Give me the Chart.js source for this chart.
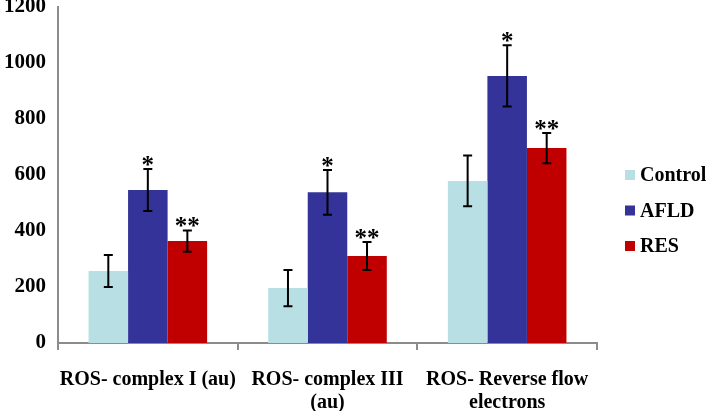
<!DOCTYPE html>
<html>
<head>
<meta charset="utf-8">
<script src="https://cdn.jsdelivr.net/npm/chart.js@4"></script>
<style>
  html, body { margin: 0; padding: 0; background: #fff; }
  #wrap { width: 707px; height: 411px; }
</style>
</head>
<body>
<div id="wrap"><canvas id="rosChart" width="707" height="411"></canvas></div>
<script>
// Categories and series
const categories = ['ROS- complex I (au)', ['ROS- complex III', '(au)'], ['ROS- Reverse flow', 'electrons']];
const seriesNames = ['Control', 'AFLD', 'RES'];
const controlValues = [257, 196, 579];
const afldValues = [546, 538, 954];
const resValues = [364, 311, 696];
const controlErrors = [57, 65, 91];
const afldErrors = [75, 80, 109];
const resErrors = [38, 50, 54];
const controlMarks = ['', '', ''];
const afldMarks = ['*', '*', '*'];
const resMarks = ['**', '**', '**'];
const yTickMin = 0;
const yTickMax = 1200;
const yTickStep = 200;

const seriesColors = ['#b8e0e4', '#333399', '#c00000'];
const axisColor = '#8c8c8c';
const serif = '"Liberation Serif", "Times New Roman", serif';

// Draws the error bars and significance stars from the data
const errorBarPlugin = {
  id: 'errorBars',
  afterDatasetsDraw(chart) {
    const ctx = chart.ctx;
    const yScale = chart.scales.y;
    chart.data.datasets.forEach((ds, di) => {
      const meta = chart.getDatasetMeta(di);
      meta.data.forEach((bar, i) => {
        const v = ds.data[i];
        const e = ds.errors[i];
        const top = yScale.getPixelForValue(v + e);
        const bottom = yScale.getPixelForValue(v - e);
        ctx.save();
        ctx.strokeStyle = '#000';
        ctx.lineWidth = 2;
        ctx.beginPath();
        ctx.moveTo(bar.x, top);
        ctx.lineTo(bar.x, bottom);
        ctx.moveTo(bar.x - 4.5, top);
        ctx.lineTo(bar.x + 4.5, top);
        ctx.moveTo(bar.x - 4.5, bottom);
        ctx.lineTo(bar.x + 4.5, bottom);
        ctx.stroke();
        if (ds.marks[i]) {
          ctx.fillStyle = '#000';
          ctx.font = 'bold 25px ' + serif;
          ctx.textAlign = 'center';
          ctx.textBaseline = 'alphabetic';
          ctx.fillText(ds.marks[i], bar.x, top + 4);
        }
        ctx.restore();
      });
    });
  }
};

// Legend on the right, centred on the canvas height like the original
const sideLegendPlugin = {
  id: 'sideLegend',
  afterDraw(chart) {
    const ctx = chart.ctx;
    const x = 625;
    const rowGap = 35.5;
    const firstY = 175;
    ctx.save();
    ctx.font = 'bold 20px ' + serif;
    ctx.textBaseline = 'middle';
    ctx.textAlign = 'left';
    chart.data.datasets.forEach((ds, i) => {
      const y = firstY + i * rowGap;
      ctx.fillStyle = ds.backgroundColor;
      ctx.fillRect(x, y - 5, 10, 10);
      ctx.fillStyle = '#000';
      ctx.fillText(ds.label, x + 15, y + 1);
    });
    ctx.restore();
  }
};

const config = {
  type: 'bar',
  data: {
    labels: categories,
    datasets: [
      { label: seriesNames[0], data: controlValues, errors: controlErrors, marks: controlMarks, backgroundColor: seriesColors[0] },
      { label: seriesNames[1], data: afldValues, errors: afldErrors, marks: afldMarks, backgroundColor: seriesColors[1] },
      { label: seriesNames[2], data: resValues, errors: resErrors, marks: resMarks, backgroundColor: seriesColors[2] }
    ]
  },
  options: {
    responsive: false,
    animation: false,
    layout: { padding: { top: 7, right: 110, left: 0, bottom: 0 } },
    datasets: {
      bar: { categoryPercentage: 0.66, barPercentage: 1.0, borderWidth: 0 }
    },
    plugins: {
      legend: { display: false },
      tooltip: { enabled: false }
    },
    scales: {
      x: {
        grid: { display: true, drawOnChartArea: false, drawTicks: true, tickLength: 7, color: axisColor, lineWidth: 2, offset: true },
        border: { display: true, color: axisColor, width: 2 },
        ticks: { color: '#000', font: { family: serif, size: 20, weight: 'bold', lineHeight: 1.15 }, padding: 18, maxRotation: 0, autoSkip: false },
        afterFit(scale) { scale.height = 68; }
      },
      y: {
        min: yTickMin,
        max: yTickMax,
        grid: { display: false, drawTicks: false },
        border: { display: true, color: axisColor, width: 2 },
        ticks: {
          stepSize: yTickStep,
          color: '#000',
          font: { family: serif, size: 21, weight: 'bold' },
          padding: 12,
          callback: v => String(v)
        },
        afterFit(scale) {
          scale.width = 58;
          scale.paddingTop = 0;
          scale.paddingBottom = 0;
        }
      }
    }
  },
  plugins: [errorBarPlugin, sideLegendPlugin]
};

new Chart(document.getElementById('rosChart'), config);
</script>
</body>
</html>
